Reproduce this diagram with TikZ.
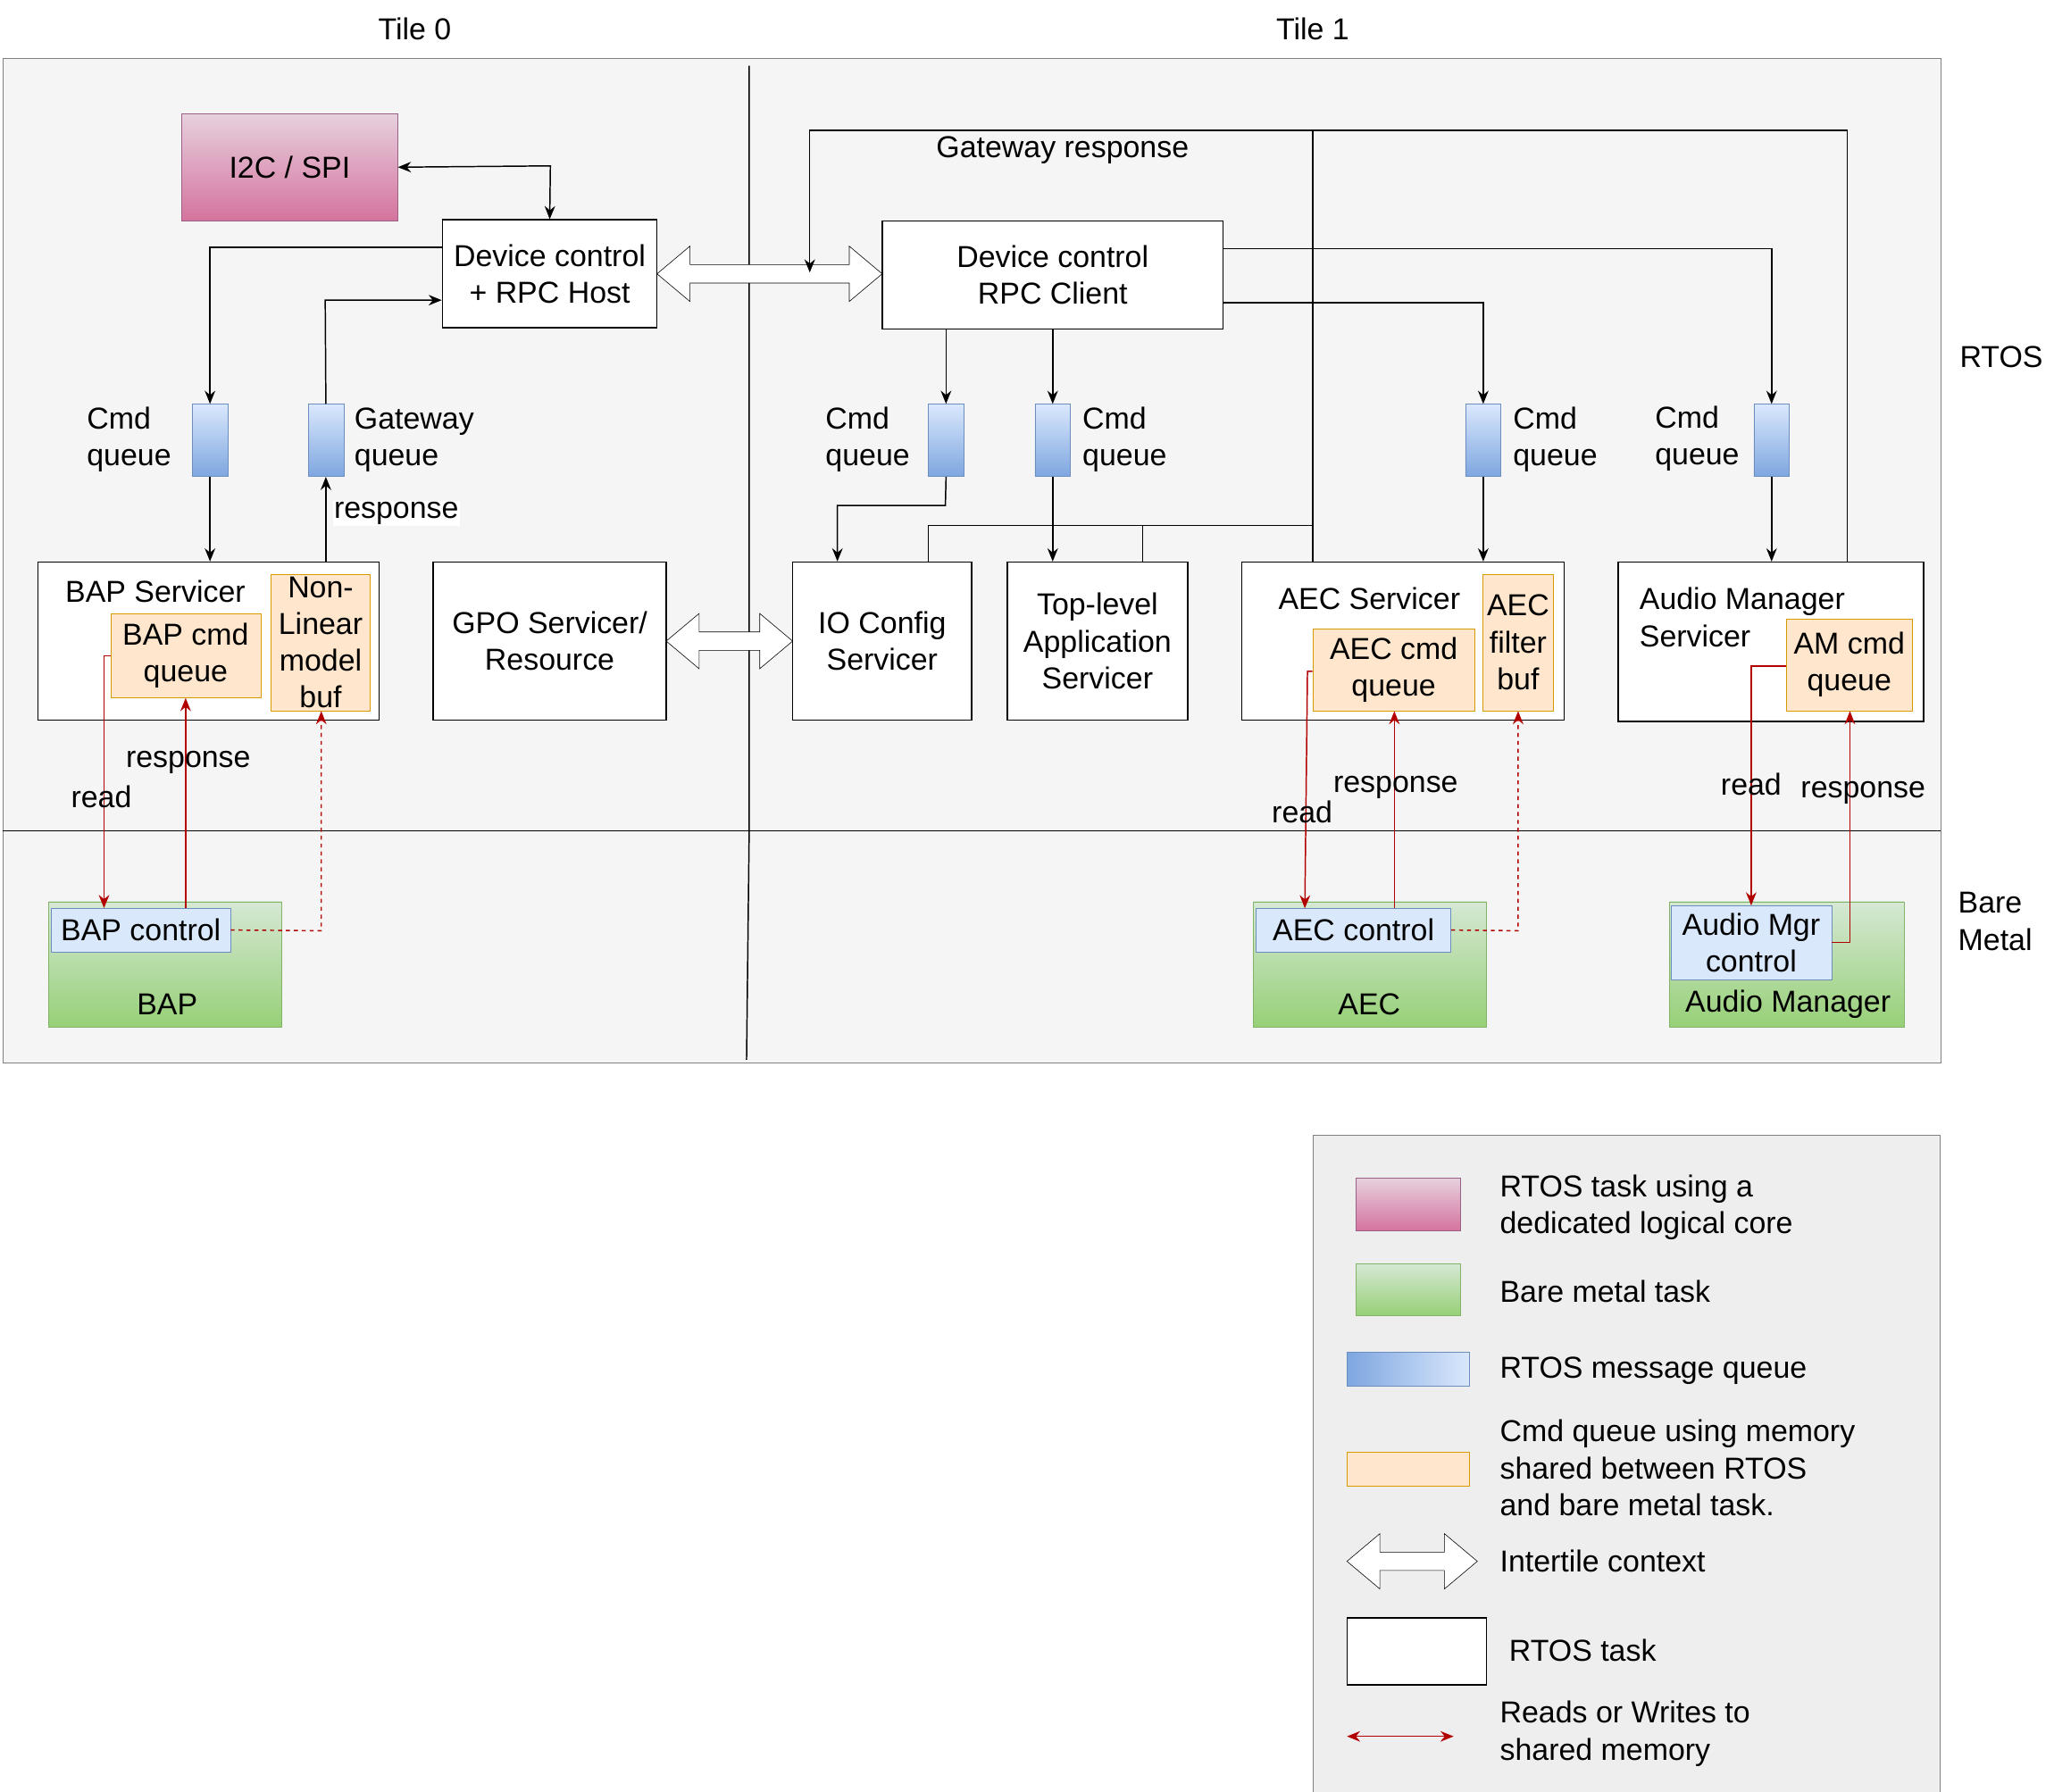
\documentclass[tikz,border=0pt]{standalone}
\usepackage{fontspec}
\setmainfont{Liberation Sans}
\usetikzlibrary{arrows.meta}
\definecolor{bgc}{HTML}{F5F5F5}
\definecolor{legc}{HTML}{EEEEEE}
\definecolor{oranf}{HTML}{FFE6CC}
\definecolor{orand}{HTML}{D79B00}
\definecolor{bluef}{HTML}{DAE8FC}
\definecolor{blued}{HTML}{6C8EBF}
\definecolor{blueg}{HTML}{7EA6E0}
\definecolor{pinkt}{HTML}{E6D0DE}
\definecolor{pinkb}{HTML}{D5739D}
\definecolor{pinkd}{HTML}{996185}
\definecolor{greent}{HTML}{D5E8D4}
\definecolor{greenb}{HTML}{97D077}
\definecolor{greend}{HTML}{82B366}
\definecolor{redc}{HTML}{B20000}
\newcommand\mydblarrow[4]{% x1 x2 y name
  \draw[fill=white] (#1,#3) -- (#1+25,#3-21) -- (#1+25,#3-7) -- (#2-25,#3-7) -- (#2-25,#3-21) -- (#2,#3) -- (#2-25,#3+21) -- (#2-25,#3+7) -- (#1+25,#3+7) -- (#1+25,#3+21) -- cycle;
  \coordinate (#4) at ({(#1+#2)/2},#3);}
\begin{document}
\begin{tikzpicture}[x=1pt,y=-1pt, >={Stealth[length=10pt,width=8pt]},
  every node/.style={font=\fontsize{23}{28}\selectfont, inner sep=0pt, align=center},
  box/.style={draw, fill=white, line width=1pt},
  orbox/.style={draw=orand, fill=oranf},
  blbox/.style={draw=blued, fill=bluef},
  q/.style={draw=blued, top color=bluef, bottom color=blueg, minimum width=27pt, minimum height=55pt},
  grn/.style={draw=greend, top color=greent, bottom color=greenb},
  con/.style={->, line width=1pt},
  rcon/.style={->, draw=redc, line width=1pt},
  lbl/.style={fill=white, inner sep=1pt}]
\useasboundingbox (0,0) rectangle (1560,1361);
% background
\node[draw=gray, fill=bgc, minimum width=1472pt, minimum height=763pt, anchor=north west] (bg) at (2,44) {};
\coordinate (vt) at (569,50); \coordinate (vm) at (569,631); \coordinate (vb) at (567,805);
\draw[line width=1pt] (vt) -- (vm) -- (vb);
\coordinate (hl) at (2,631); \coordinate (hr) at (1474,631);
\draw[line width=1pt] (hl) -- (hr);
\node (t0) at (315,22) {Tile 0};
\node (t1) at (997,22) {Tile 1};
\node (rt) at (1520,271) {RTOS};
\node[align=left, anchor=west] (bm) at (1487,700) {Bare\\Metal};
% top boxes
\node[draw=pinkd, top color=pinkt, bottom color=pinkb, minimum width=164pt, minimum height=81pt] (i2c) at (220,127) {I2C / SPI};
\node[box, minimum width=163pt, minimum height=82pt] (host) at (417.5,208) {Device control\\+ RPC Host};
\node[box, minimum width=259pt, minimum height=82pt] (cli) at (799.5,209) {Device control\\RPC Client};
\mydblarrow{499}{670}{208}{da1}
% queues
\node[q] (q1) at (159.5,334.5) {};
\node[q] (q2) at (247.5,334.5) {};
\node[q] (q3) at (718.5,334.5) {};
\node[q] (q4) at (799.5,334.5) {};
\node[q] (q5) at (1126.5,334.5) {};
\node[q] (q6) at (1345.5,334.5) {};
\node[align=left] (l1) at (98,334) {Cmd\\queue};
\node[align=left, anchor=west] (l2) at (269,334) {Gateway\\queue};
\node[align=left] (l3) at (659,334) {Cmd\\queue};
\node[align=left, anchor=west] (l4) at (822,334) {Cmd\\queue};
\node[align=left, anchor=west] (l5) at (1149,334) {Cmd\\queue};
\node[align=left] (l6) at (1289,333) {Cmd\\queue};
% servicers
\node[box, minimum width=259pt, minimum height=120pt] (bap) at (158.5,487) {};
\node (bapt) at (118,449) {BAP Servicer};
\node[orbox, minimum width=114pt, minimum height=64pt] (bapq) at (141,498) {BAP cmd\\queue};
\node[orbox, minimum width=75pt, minimum height=104pt] (nlb) at (243.5,488) {Non-\\Linear\\model\\buf};
\node[box, minimum width=177pt, minimum height=120pt] (gpo) at (417.5,487) {GPO Servicer/\\Resource};
\mydblarrow{506}{602}{487}{da2}
\node[box, minimum width=136pt, minimum height=120pt] (io) at (670,487) {IO Config\\Servicer};
\node[box, minimum width=137pt, minimum height=120pt] (top) at (833.5,487) {Top-level\\Application\\Servicer};
\node[box, minimum width=245pt, minimum height=120pt] (aec) at (1065.5,487) {};
\node (aect) at (1040,455) {AEC Servicer};
\node[orbox, minimum width=123pt, minimum height=62pt] (aecq) at (1058.5,509) {AEC cmd\\queue};
\node[orbox, minimum width=54pt, minimum height=104pt] (aecb) at (1153,488) {AEC\\filter\\buf};
\node[box, minimum width=232pt, minimum height=121pt] (am) at (1345,487.5) {};
\node[align=left, anchor=west] (amt) at (1245,469) {Audio Manager\\Servicer};
\node[orbox, minimum width=95pt, minimum height=70pt] (amq) at (1404.5,505) {AM cmd\\queue};
% bare metal
\node[grn, minimum width=177pt, minimum height=95pt] (bapg) at (125.5,732.5) {};
\node (bapgt) at (127,763) {BAP};
\node[blbox, minimum width=136pt, minimum height=33pt] (bapc) at (107,706.5) {BAP control};
\node[grn, minimum width=177pt, minimum height=95pt] (aecg) at (1040.5,732.5) {};
\node (aecgt) at (1040,763) {AEC};
\node[blbox, minimum width=148pt, minimum height=33pt] (aecc) at (1028,706.5) {AEC control};
\node[grn, minimum width=178pt, minimum height=95pt] (amg) at (1357,732.5) {};
\node (amgt) at (1358,763) {Audio Manager};
\node[blbox, minimum width=122pt, minimum height=56pt] (amc) at (1330,716) {Audio Mgr\\control};
% black connectors
\draw[con, <->] (i2c.east) -- (418,126) -- (host.north);
\draw[con] (host.west |- 0,188) -| (q1.north);
\draw[con] (q1.south) -- (bap.north -| q1.south);
\draw[con] (bap.north -| q2.south) -- (q2.south);
\node[lbl] (resp0) at (301,390) {response};
\draw[con] (q2.north) -- (247,228) -- (host.west |- 0,228);
\draw[con] (cli.south -| q3.north) -- (q3.north);
\draw[con] (cli.south -| q4.north) -- (q4.north);
\draw[con] (q3.south) -- (718,384) -- (636,384) -- (io.north -| 636,0);
\draw[con] (q4.south) -- (top.north -| q4.south);
\draw[con] (cli.east |- 0,189) -| (q6.north);
\draw[con] (q6.south) -- (am.north -| q6.south);
\draw[con] (cli.east |- 0,230) -| (q5.north);
\draw[con] (q5.south) -- (aec.north -| q5.south);
% gateway response lines
\draw[line width=1pt] (io.north -| 705,0) -- (705,399) -- (868,399) -- (top.north -| 868,0);
\draw[line width=1pt] (868,399) -- (997,399);
\draw[line width=1pt] (aec.north -| 997,0) -- (997,99);
\draw[con] (am.north -| 1403,0) -- (1403,99) -- (615,99) -- (615,207);
\node (gwr) at (807,114) {Gateway response};
% red connectors
\draw[rcon] (bapq.west |- 0,498) -- (79,498) -- (bapc.north -| 79,0);
\draw[rcon] (bapc.north -| 141,0) -- (bapq.south);
\draw[rcon, dashed] (bapc.east) -- (244,707) -- (nlb.south -| 244,0);
\node (rd1) at (77,605) {read};
\node (rs1) at (143,579) {response};
\draw[rcon] (aecq.west |- 0,510) -- (993,510) -- (991,690);
\draw[rcon] (aecc.north -| 1059,0) -- (aecq.south -| 1059,0);
\draw[rcon, dashed] (aecc.east) -- (1153,707) -- (aecb.south);
\node (rd2) at (989,617) {read};
\node (rs2) at (1060,598) {response};
\draw[rcon] (amq.west |- 0,506) -- (1330,506) -- (amc.north);
\draw[rcon] (amc.east |- 0,716) -- (1405,716) -- (amq.south -| 1405,0);
\node (rd3) at (1330,596) {read};
\node (rs3) at (1415,602) {response};
% legend
\node[draw=gray, fill=legc, minimum width=476pt, minimum height=505pt, anchor=north west] (leg) at (997,862) {};
\node[draw=pinkd, top color=pinkt, bottom color=pinkb, minimum width=79pt, minimum height=40pt] (lg1) at (1069.5,915) {};
\node[align=left, anchor=west] (lt1) at (1139,917) {RTOS task using a\\dedicated logical core};
\node[grn, minimum width=79pt, minimum height=39pt] (lg2) at (1069.5,979.5) {};
\node[anchor=west] (lt2) at (1139,981) {Bare metal task};
\node[draw=blued, left color=blueg, right color=bluef, minimum width=93pt, minimum height=26pt] (lg3) at (1069.5,1040) {};
\node[anchor=west] (lt3) at (1139,1041) {RTOS message queue};
\node[orbox, minimum width=93pt, minimum height=26pt] (lg4) at (1069.5,1116) {};
\node[align=left, anchor=west] (lt4) at (1139,1115) {Cmd queue using memory\\shared between RTOS\\and bare metal task.};
\mydblarrow{1023}{1122}{1186}{lg5}
\node[anchor=west] (lt5) at (1139,1186) {Intertile context};
\node[box, minimum width=106pt, minimum height=51pt] (lg6) at (1076,1254.5) {};
\node[anchor=west] (lt6) at (1146,1254) {RTOS task};
\coordinate (ra) at (1023,1319); \coordinate (rb) at (1104,1319);
\draw[rcon, <->] (ra) -- (rb);
\node[align=left, anchor=west] (lt7) at (1139,1317) {Reads or Writes to\\shared memory};
\end{tikzpicture}
\end{document}
